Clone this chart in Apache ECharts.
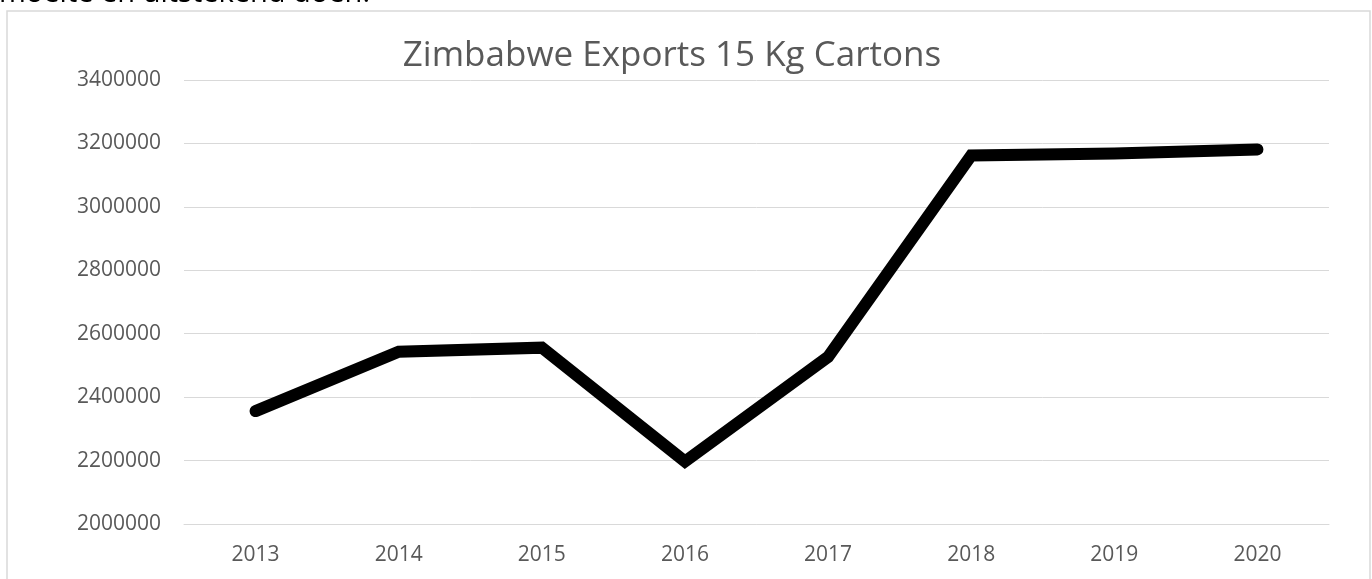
<!DOCTYPE html>
<html>
<head>
<meta charset="utf-8">
<script src="https://cdn.jsdelivr.net/npm/echarts@6/dist/echarts.min.js"></script>
<style>
  html, body { margin: 0; padding: 0; background: #fff; }
  #chart { width: 1372px; height: 579px; }
</style>
</head>
<body>
<div id="chart"></div>
<script>
// years on the x axis
var years = ['2013', '2014', '2015', '2016', '2017', '2018', '2019', '2020']
// exports, 15 kg cartons
var cartons = [2356000, 2543000, 2556000, 2197000, 2527000, 3162000, 3168000, 3181000]
// y axis range
var yMin = 2000000
var yMax = 3400000
var yStep = 200000

var chart = echarts.init(document.getElementById('chart'))
var option = {
  animation: false,
  textStyle: { fontFamily: 'Open Sans' },
  title: {
    text: 'Zimbabwe Exports 15 Kg Cartons',
    left: 667,
    textAlign: 'center',
    top: 34,
    textStyle: { color: '#595959', fontSize: 35, fontWeight: 'normal', fontFamily: 'Open Sans' }
  },
  graphic: [
    { // chart border
      type: 'rect',
      shape: { x: 7, y: 11, width: 1363, height: 600 },
      style: { fill: 'none', stroke: '#d9d9d9', lineWidth: 1.5 },
      silent: true
    },
    { // text of the page above, cut off
      type: 'text',
      left: -1,
      top: -21,
      style: { text: 'moeite en uitstekend doen.', fill: '#000', font: '29px "Open Sans"' },
      silent: true
    }
  ],
  grid: { left: 184, right: 43, top: 80, bottom: 55 },
  xAxis: {
    type: 'category',
    data: years,
    boundaryGap: true,
    axisLine: { lineStyle: { color: '#d9d9d9' } },
    axisTick: { show: false },
    axisLabel: { color: '#595959', fontSize: 21, margin: 21 }
  },
  yAxis: {
    type: 'value',
    min: yMin,
    max: yMax,
    interval: yStep,
    axisLine: { show: false },
    axisTick: { show: false },
    splitLine: { lineStyle: { color: '#d9d9d9', width: 1 } },
    axisLabel: {
      color: '#595959',
      fontSize: 21,
      margin: 23,
      formatter: function (v) { return String(v) }
    }
  },
  series: [
    {
      type: 'line',
      data: cartons,
      symbol: 'none',
      lineStyle: { color: '#000', width: 12, cap: 'round', join: 'miter' }
    }
  ]
}
chart.setOption(option)
</script>
</body>
</html>
